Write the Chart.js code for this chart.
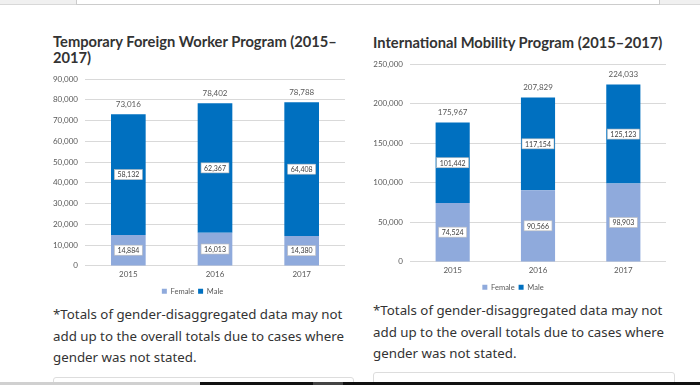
<!DOCTYPE html>
<html>
<head>
<meta charset="utf-8">
<script src="https://cdn.jsdelivr.net/npm/chart.js@4.4.1/dist/chart.umd.min.js"></script>
<style>
  body { margin: 0; width: 700px; height: 385px; background: #fff; position: relative; overflow: hidden; }
  .topbar { position: absolute; left: 0; top: 0; width: 700px; height: 4px; background: #f0f0f0; border-bottom: 1px solid #d8d8d8; }
  .topbox { position: absolute; left: 76px; top: -2px; width: 582px; height: 5px; background: #fff; border: 1px solid #ccc; }
  h3 { position: absolute; margin: 0; font-family: Lato, sans-serif; font-weight: 700; font-size: 14.7px; line-height: 16px; color: #333; }
  .note { position: absolute; margin: 0; font-family: "Noto Sans", sans-serif; font-size: 13.3px; line-height: 21.5px; color: #333; }
  .box { position: absolute; border: 1px solid #ddd; border-radius: 3px; height: 20px; background: #fff; }
  .wrap { position: absolute; }
  .bottom { position: absolute; top: 382px; height: 3px; }
</style>
</head>
<body>
<div class="topbar"></div>
<div class="topbox"></div>

<h3 style="left:53px; top:33px;">Temporary Foreign Worker Program (2015–<br>2017)</h3>
<h3 style="left:373px; top:34px;">International Mobility Program (2015–2017)</h3>

<p class="note" style="left:53px; top:304px; width:300px;">*Totals of gender-disaggregated data may not add up to the overall totals due to cases where gender was not stated.</p>
<p class="note" style="left:373px; top:300px; width:300px;">*Totals of gender-disaggregated data may not add up to the overall totals due to cases where gender was not stated.</p>

<div class="wrap" style="left:40px; top:66px; width:315px; height:241px;"><canvas id="tfwp"></canvas></div>
<div class="wrap" style="left:360px; top:52px; width:320px; height:251px;"><canvas id="imp"></canvas></div>

<div class="box" style="left:53px; top:377px; width:299px;"></div>
<div class="box" style="left:373px; top:372px; width:300px;"></div>

<div class="bottom" style="left:0; width:200px; background:#d0d0d0;"></div>
<div class="bottom" style="left:200px; width:113px; background:#111;"></div>
<div class="bottom" style="left:313px; width:30px; background:#444;"></div>
<div class="bottom" style="left:343px; width:357px; background:#111;"></div>

<script>
const years = ["2015", "2016", "2017"];

// Temporary Foreign Worker Program
const tfwpFemale = [14884, 16013, 14380];
const tfwpMale = [58132, 62367, 64408];
const tfwpTotal = [73016, 78402, 78788];

// International Mobility Program
const impFemale = [74524, 90566, 98903];
const impMale = [101442, 117154, 125123];
const impTotal = [175967, 207829, 224033];

const femaleColor = '#8faadc';
const maleColor = '#0070c0';
const tickColor = '#595959';
const chartFont = 'Lato, "Liberation Sans", sans-serif';

const fmt = v => v.toLocaleString('en-US');

// boxed labels in the middle of every segment, totals above each stack
const labelPlugin = {
  id: 'segLabels',
  afterDatasetsDraw(chart, args, opts) {
    const ctx = chart.ctx;
    ctx.save();
    ctx.font = '7px ' + chartFont;
    ctx.textAlign = 'center';
    ctx.textBaseline = 'middle';
    chart.data.datasets.forEach((ds, i) => {
      const meta = chart.getDatasetMeta(i);
      meta.data.forEach((bar, j) => {
        const txt = fmt(ds.data[j]);
        const y = (bar.y + bar.base) / 2;
        const w = ctx.measureText(txt).width + 6;
        const h = 10;
        ctx.fillStyle = '#fff';
        ctx.fillRect(bar.x - w / 2, y - h / 2, w, h);
        ctx.strokeStyle = '#bfbfbf';
        ctx.lineWidth = 0.6;
        ctx.strokeRect(bar.x - w / 2, y - h / 2, w, h);
        ctx.fillStyle = '#404040';
        ctx.fillText(txt, bar.x, y + 0.5);
      });
    });
    const yScale = chart.scales.y;
    const top = chart.getDatasetMeta(chart.data.datasets.length - 1);
    ctx.font = '8px ' + chartFont;
    ctx.fillStyle = tickColor;
    opts.totals.forEach((t, j) => {
      ctx.fillText(fmt(t), top.data[j].x, yScale.getPixelForValue(t) - 10);
    });
    ctx.restore();
  }
};

function stackChart(id, female, male, totals, yMax, yStep, axisWidth, padRight, padTop, padBottom) {
  const ctx = document.getElementById(id).getContext('2d');
  return new Chart(ctx, {
    type: 'bar',
    data: {
      labels: years,
      datasets: [
        { label: 'Female', data: female, backgroundColor: femaleColor, barPercentage: 0.8, categoryPercentage: 0.5 },
        { label: 'Male', data: male, backgroundColor: maleColor, barPercentage: 0.8, categoryPercentage: 0.5 }
      ]
    },
    options: {
      responsive: true,
      maintainAspectRatio: false,
      animation: false,
      layout: { padding: { left: 0, right: padRight, top: padTop, bottom: padBottom } },
      scales: {
        x: {
          stacked: true,
          grid: { display: false, drawTicks: false },
          border: { display: false },
          ticks: { color: tickColor, font: { family: chartFont, size: 8 }, padding: 4 }
        },
        y: {
          stacked: true,
          min: 0,
          max: yMax,
          border: { display: false },
          grid: { color: '#d9d9d9', drawTicks: false },
          ticks: { stepSize: yStep, color: tickColor, font: { family: chartFont, size: 8 }, padding: 7, callback: v => fmt(v) },
          afterFit(scale) { scale.width = axisWidth; }
        }
      },
      plugins: {
        legend: {
          position: 'bottom',
          labels: { boxWidth: 5, boxHeight: 5, padding: 4, color: tickColor, font: { family: chartFont, size: 7.5 } }
        },
        tooltip: { enabled: false },
        segLabels: { totals: totals }
      }
    },
    plugins: [labelPlugin]
  });
}

stackChart('tfwp', tfwpFemale, tfwpMale, tfwpTotal, 90000, 10000, 45, 10, 13, 2);
stackChart('imp', impFemale, impMale, impTotal, 250000, 50000, 50, 14, 12, 2);
</script>
</body>
</html>
